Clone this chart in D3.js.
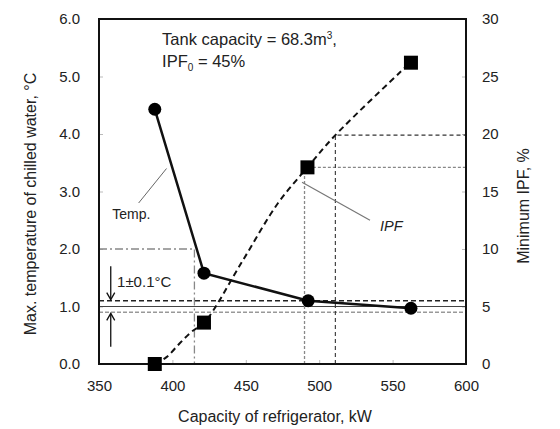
<!DOCTYPE html>
<html>
<head>
<meta charset="utf-8">
<script src="https://cdn.jsdelivr.net/npm/d3@7"></script>
<style>
  body { margin: 0; background: #fff; }
  text { font-family: "Liberation Sans", Arial, sans-serif; fill: #222; }
</style>
</head>
<body>
<script>
// measured points (kW vs. max temp / min IPF)
var capacity = [388, 421.5, 492.5, 562.5];
var maxTemp = [4.43, 1.58, 1.10, 0.97];
var ipfCapacity = [388, 421.5, 492, 562.5];
var minIPF = [0, 3.6, 17.1, 26.2];

// dashed IPF curve
var fitCapacity = [388, 396, 405, 413, 422, 447, 472, 492, 511, 562];
var fitIPF = [0, 0.6, 1.8, 2.8, 3.65, 8.8, 14, 17.1, 19.9, 26.2];

// tick labels
var xTicks = [350, 400, 450, 500, 550, 600];
var yTicks = [0, 1, 2, 3, 4, 5, 6];
var y2Ticks = [0, 5, 10, 15, 20, 25, 30];

// 1 +- 0.1 C band
var bandTemps = [0.9, 1.0, 1.1];

var W = 560, H = 429;
var L = 99, R = 466, T = 19, B = 364;

var svg = d3.select("body")
  .append("svg")
  .attr("width", W)
  .attr("height", H);

var x = d3.scaleLinear().domain([350, 600]).range([L, R]);
var y = d3.scaleLinear().domain([0, 6]).range([B, T]);
var y2 = d3.scaleLinear().domain([0, 30]).range([B, T]);

// axes (labels + faint inner ticks)
var axL = svg.append("g").attr("transform", "translate(" + L + ",0)")
  .call(d3.axisLeft(y).tickValues(yTicks).tickFormat(d3.format(".1f"))
    .tickSizeInner(-4).tickSizeOuter(0).tickPadding(19));
var axR = svg.append("g").attr("transform", "translate(" + R + ",0)")
  .call(d3.axisRight(y2).tickValues(y2Ticks).tickFormat(d3.format("d"))
    .tickSizeInner(-4).tickSizeOuter(0).tickPadding(16));
var axB = svg.append("g").attr("transform", "translate(0," + B + ")")
  .call(d3.axisBottom(x).tickValues(xTicks).tickFormat(d3.format("d"))
    .tickSizeInner(-4).tickSizeOuter(0).tickPadding(16));
[axL, axR, axB].forEach(function(a) {
  a.select(".domain").remove();
  a.selectAll(".tick line").attr("stroke", "#bbb");
  a.selectAll(".tick text")
    .attr("font-size", "15px")
    .attr("font-family", "Liberation Sans, Arial, sans-serif")
    .attr("fill", "#333");
});

var guides = svg.append("g");

// temperature band lines
guides.selectAll("line.band")
  .data(bandTemps)
  .enter()
  .append("line")
  .attr("x1", L).attr("x2", R)
  .attr("y1", function(d) { return y(d); })
  .attr("y2", function(d) { return y(d); })
  .attr("stroke", function(d) { return d === 1.0 ? "#444" : (d > 1 ? "#222" : "#999"); })
  .attr("stroke-width", function(d) { return d === 1.0 ? 1 : 1.3; })
  .attr("stroke-dasharray", function(d) { return d === 1.0 ? null : (d > 1 ? "5,3" : "4,2"); });

// dash-dot guide at 2.0 C
guides.append("path")
  .attr("d", "M" + L + "," + y(2) + "H" + x(415) + "V" + B)
  .attr("fill", "none")
  .attr("stroke", "#888")
  .attr("stroke-width", 1.3)
  .attr("stroke-dasharray", "8,3,2,3");

// IPF guides
guides.append("path")
  .attr("d", "M" + x(490) + "," + B + "V" + y2(17.1) + "H" + R)
  .attr("fill", "none")
  .attr("stroke", "#888")
  .attr("stroke-width", 1.3)
  .attr("stroke-dasharray", "3,2");
guides.append("path")
  .attr("d", "M" + x(511) + "," + B + "V" + y2(19.9) + "H" + R)
  .attr("fill", "none")
  .attr("stroke", "#333")
  .attr("stroke-width", 1.1)
  .attr("stroke-dasharray", "4,3");

// dashed IPF curve
var fit = fitCapacity.map(function(c, i) { return [c, fitIPF[i]]; });
svg.append("path")
  .datum(fit)
  .attr("d", d3.line()
    .x(function(d) { return x(d[0]); })
    .y(function(d) { return y2(d[1]); })
    .curve(d3.curveCatmullRom))
  .attr("fill", "none")
  .attr("stroke", "#111")
  .attr("stroke-width", 2)
  .attr("stroke-dasharray", "6,4");

// temperature line
var temp = capacity.map(function(c, i) { return [c, maxTemp[i]]; });
svg.append("path")
  .datum(temp)
  .attr("d", d3.line()
    .x(function(d) { return x(d[0]); })
    .y(function(d) { return y(d[1]); }))
  .attr("fill", "none")
  .attr("stroke", "#111")
  .attr("stroke-width", 2.5);

// frame
svg.append("rect")
  .attr("x", L).attr("y", T)
  .attr("width", R - L).attr("height", B - T)
  .attr("fill", "none")
  .attr("stroke", "#111")
  .attr("stroke-width", 2);

svg.selectAll("circle.temp")
  .data(temp)
  .enter()
  .append("circle")
  .attr("cx", function(d) { return x(d[0]); })
  .attr("cy", function(d) { return y(d[1]); })
  .attr("r", 6.5)
  .attr("fill", "#000");

var ipf = ipfCapacity.map(function(c, i) { return [c, minIPF[i]]; });
svg.selectAll("rect.ipf")
  .data(ipf)
  .enter()
  .append("rect")
  .attr("x", function(d) { return x(d[0]) - 7; })
  .attr("y", function(d) { return y2(d[1]) - 7; })
  .attr("width", 14)
  .attr("height", 14)
  .attr("fill", "#000");

// annotations
var note = svg.append("text")
  .attr("x", x(393)).attr("y", y(5.55))
  .attr("font-size", "16.5px");
note.append("tspan").text("Tank capacity = 68.3m");
note.append("tspan").attr("font-size", "10px").attr("dy", "-6").text("3");
note.append("tspan").attr("dy", "6").text(",");

var note2 = svg.append("text")
  .attr("x", x(393)).attr("y", y(5.17))
  .attr("font-size", "16.5px");
note2.append("tspan").text("IPF");
note2.append("tspan").attr("font-size", "10px").attr("dy", "4").text("0");
note2.append("tspan").attr("dy", "-4").text(" = 45%");

// Temp. leader
svg.append("line")
  .attr("x1", x(377)).attr("y1", y(2.8))
  .attr("x2", x(396)).attr("y2", y(3.4))
  .attr("stroke", "#666").attr("stroke-width", 1);
svg.append("text")
  .attr("x", x(359)).attr("y", y(2.52))
  .attr("font-size", "14px")
  .text("Temp.");

// IPF leader
svg.append("line")
  .attr("x1", x(488.3)).attr("y1", y2(15.8))
  .attr("x2", x(534.6)).attr("y2", y2(12.5))
  .attr("stroke", "#777").attr("stroke-width", 1.2);
svg.append("text")
  .attr("x", x(541.4)).attr("y", y2(11.6))
  .attr("font-size", "14.5px")
  .attr("font-style", "italic")
  .text("IPF");

// 1 +- 0.1 C arrows
svg.append("text")
  .attr("x", x(362.3)).attr("y", y(1.34))
  .attr("font-size", "15px")
  .text("1\u00b10.1\u00b0C");

function arrow(x0, ya, yb) {
  var dir = yb > ya ? 1 : -1;
  svg.append("line")
    .attr("x1", x0).attr("y1", ya).attr("x2", x0).attr("y2", yb)
    .attr("stroke", "#111").attr("stroke-width", 1.3);
  svg.append("path")
    .attr("d", "M" + (x0 - 4) + "," + (yb - dir * 7) + "L" + x0 + "," + yb + "L" + (x0 + 4) + "," + (yb - dir * 7))
    .attr("fill", "none").attr("stroke", "#111").attr("stroke-width", 1.3);
}
arrow(x(358), y(1.7), y(1.12));
arrow(x(358), y(0.3), y(0.88));

// axis titles
svg.append("text")
  .attr("transform", "translate(30," + 204 + ") rotate(-90)")
  .attr("text-anchor", "middle")
  .attr("dy", "0.35em")
  .attr("font-size", "16px")
  .text("Max. temperature of chilled water, \u00b0C");
svg.append("text")
  .attr("transform", "translate(523," + 206 + ") rotate(-90)")
  .attr("text-anchor", "middle")
  .attr("dy", "0.35em")
  .attr("font-size", "16px")
  .text("Minimum IPF, %");
svg.append("text")
  .attr("x", 275).attr("y", 422)
  .attr("text-anchor", "middle")
  .attr("font-size", "16px")
  .text("Capacity of refrigerator, kW");
</script>
</body>
</html>
